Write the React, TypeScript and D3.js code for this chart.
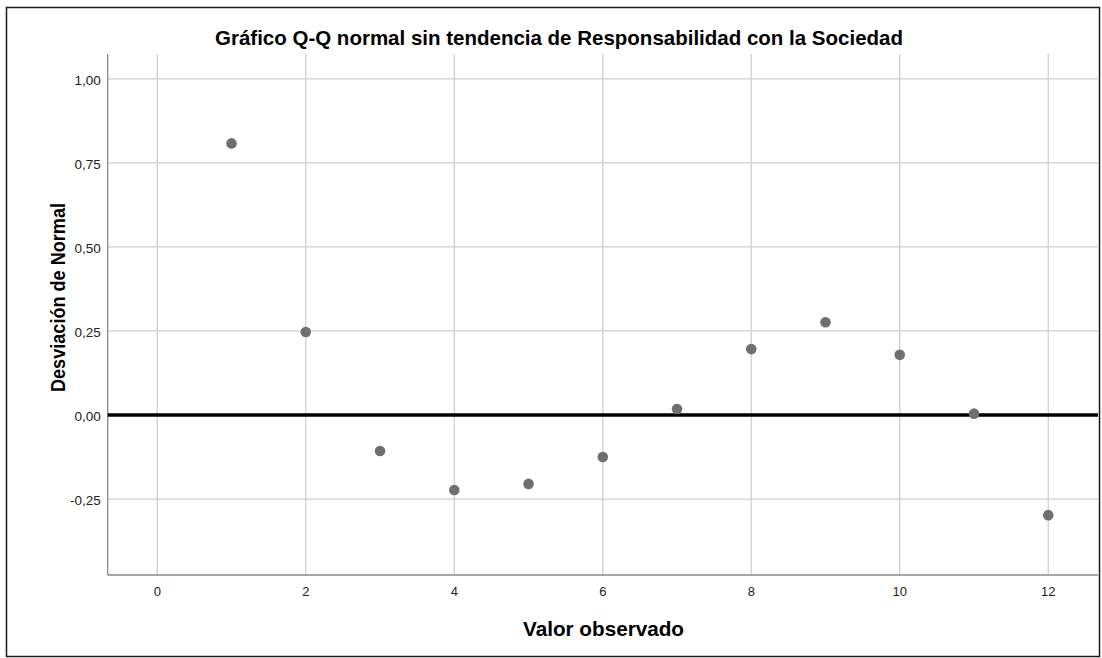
import React from "react";
import * as d3 from "d3";

const xValues = [1, 2, 3, 4, 5, 6, 7, 8, 9, 10, 11, 12];
const yValues = [0.808, 0.247, -0.107, -0.223, -0.205, -0.125, 0.018, 0.196, 0.276, 0.179, 0.004, -0.298];
const xTicks = [0, 2, 4, 6, 8, 10, 12];
const yTicks = [-0.25, 0, 0.25, 0.5, 0.75, 1.0];
const title = "Gráfico Q-Q normal sin tendencia de Responsabilidad con la Sociedad";
const xTitle = "Valor observado";
const yTitle = "Desviación de Normal";

const W = 1102, H = 658;
const left = 107.7, right = 1098, top = 54, bottom = 575;

export default function App() {
  const x = d3.scaleLinear().domain([-0.668, 12.67]).range([left, right]);
  const y = d3.scaleLinear().domain([-0.476, 1.074]).range([bottom, top]);
  const fmt = (v: number) => v.toFixed(2).replace(".", ",");
  const font = "'Liberation Sans', Arial, sans-serif";
  return (
    <svg width={W} height={H} style={{ position: "absolute", left: 0, top: 0, background: "#fff" }} fontFamily={font}>
      <rect x={6.5} y={7.5} width={1093} height={649} fill="#fff" stroke="#1a1a1a" strokeWidth={1.5} />
      <text x={559} y={45} textAnchor="middle" fontSize={20.5} fontWeight="bold" fill="#000" textLength={688} lengthAdjust="spacingAndGlyphs">{title}</text>
      {xTicks.map((t) => (
        <line key={"gx" + t} x1={x(t)} x2={x(t)} y1={top} y2={bottom} stroke="#cfcfcf" strokeWidth={1.3} />
      ))}
      {yTicks.map((t) => (
        <line key={"gy" + t} x1={left} x2={right} y1={y(t)} y2={y(t)} stroke="#cfcfcf" strokeWidth={1.3} />
      ))}
      <line x1={left} x2={left} y1={top} y2={bottom} stroke="#8a8a8a" strokeWidth={1.3} />
      <line x1={left} x2={right} y1={bottom} y2={bottom} stroke="#8a8a8a" strokeWidth={1.3} />
      {xTicks.map((t) => (
        <text key={"tx" + t} x={x(t)} y={596} textAnchor="middle" fontSize={13} fill="#222">{t}</text>
      ))}
      {yTicks.map((t) => (
        <text key={"ty" + t} x={100.7} y={y(t) + 6} textAnchor="end" fontSize={13.5} fill="#222">{fmt(t)}</text>
      ))}
      <line x1={left} x2={right} y1={y(0)} y2={y(0)} stroke="#000" strokeWidth={3.5} />
      {xValues.map((v, i) => (
        <circle key={"p" + i} cx={x(v)} cy={y(yValues[i])} r={5.3} fill="#6f6f6f" />
      ))}
      <text x={603.5} y={636} textAnchor="middle" fontSize={20.5} fontWeight="bold" fill="#000" textLength={161} lengthAdjust="spacingAndGlyphs">{xTitle}</text>
      <text transform={`translate(65, 297.5) rotate(-90)`} textAnchor="middle" fontSize={20.5} fontWeight="bold" fill="#000" textLength={189} lengthAdjust="spacingAndGlyphs">{yTitle}</text>
    </svg>
  );
}
